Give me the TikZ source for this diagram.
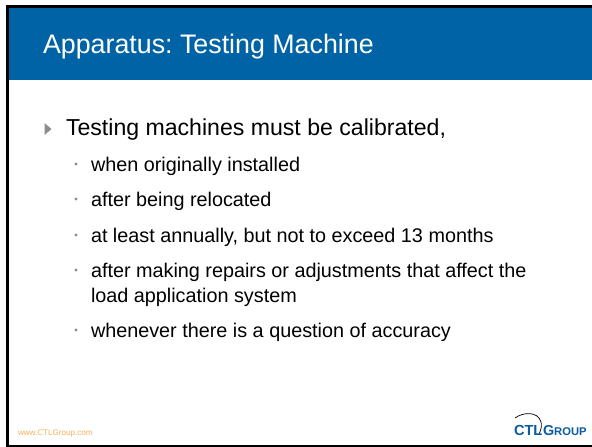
\documentclass[tikz,border=0pt]{standalone}
\usepackage{fontspec}
\setmainfont{Liberation Sans}
\definecolor{band}{HTML}{0063A6}
\definecolor{logoblue}{HTML}{0B5C9E}
\definecolor{wwwc}{HTML}{F9B25C}
\definecolor{bull}{HTML}{8C8C8C}
\tikzset{
  txt/.style={anchor=base west,inner sep=0pt,outer sep=0pt,text=black},
  lvlone/.style={txt,font=\fontsize{23.1}{27}\selectfont},
  lvltwo/.style={txt,font=\fontsize{19.8}{24}\selectfont},
  dotb/.style={circle,fill=bull,draw=none,minimum size=3.4pt,inner sep=0pt},
}
\begin{document}
\frenchspacing
\begin{tikzpicture}[x=1pt,y=-1pt]
\useasboundingbox (0,0) rectangle (592,447);
\fill[white] (0,0) rectangle (592,447);
\fill[band] (9,8) rectangle (592,80);
\fill[black] (6,5) rectangle (592,8);
\fill[black] (6,5) rectangle (9,447);
\fill[black] (6,445) rectangle (592,447);
\node[txt,text=white,font=\fontsize{26.8}{32}\selectfont] (title) at (43,53) {Apparatus: Testing Machine};
\fill[bull] (44.5,123) -- (51.5,129) -- (44.5,135) -- cycle;
\node[lvlone] (head) at (66,135) {Testing machines must be calibrated,};
\node[dotb] (d1) at (76,164) {};
\node[lvltwo] (t1) at (91,171) {when originally installed};
\node[dotb] (d2) at (76,199) {};
\node[lvltwo] (t2) at (91,206) {after being relocated};
\node[dotb] (d3) at (76,235) {};
\node[lvltwo] (t3) at (91,242) {at least annually, but not to exceed 13 months};
\node[dotb] (d4) at (76,270) {};
\node[lvltwo] (t4) at (91,277) {after making repairs or adjustments that affect the};
\node[lvltwo] (t4b) at (91,302) {load application system};
\node[dotb] (d5) at (76,330) {};
\node[lvltwo] (t5) at (91,337) {whenever there is a question of accuracy};
\node[txt,text=wwwc,font=\fontsize{8.1}{10}\selectfont] (www) at (18,435) {www.CTLGroup.com};
\draw[black,line width=0.7pt] (515,418) .. controls (523,412) and (538,411) .. (541,422) .. controls (542,426) and (541,430) .. (539,434);
\node[txt,text=logoblue,font=\bfseries\fontsize{14.6}{15}\selectfont] (ctl) at (514,435) {CTL};
\node[txt,text=logoblue,font=\bfseries\fontsize{14.4}{15}\selectfont] (grp) at (543,435) {G\fontsize{11.2}{12}\selectfont ROUP};
\end{tikzpicture}
\end{document}
